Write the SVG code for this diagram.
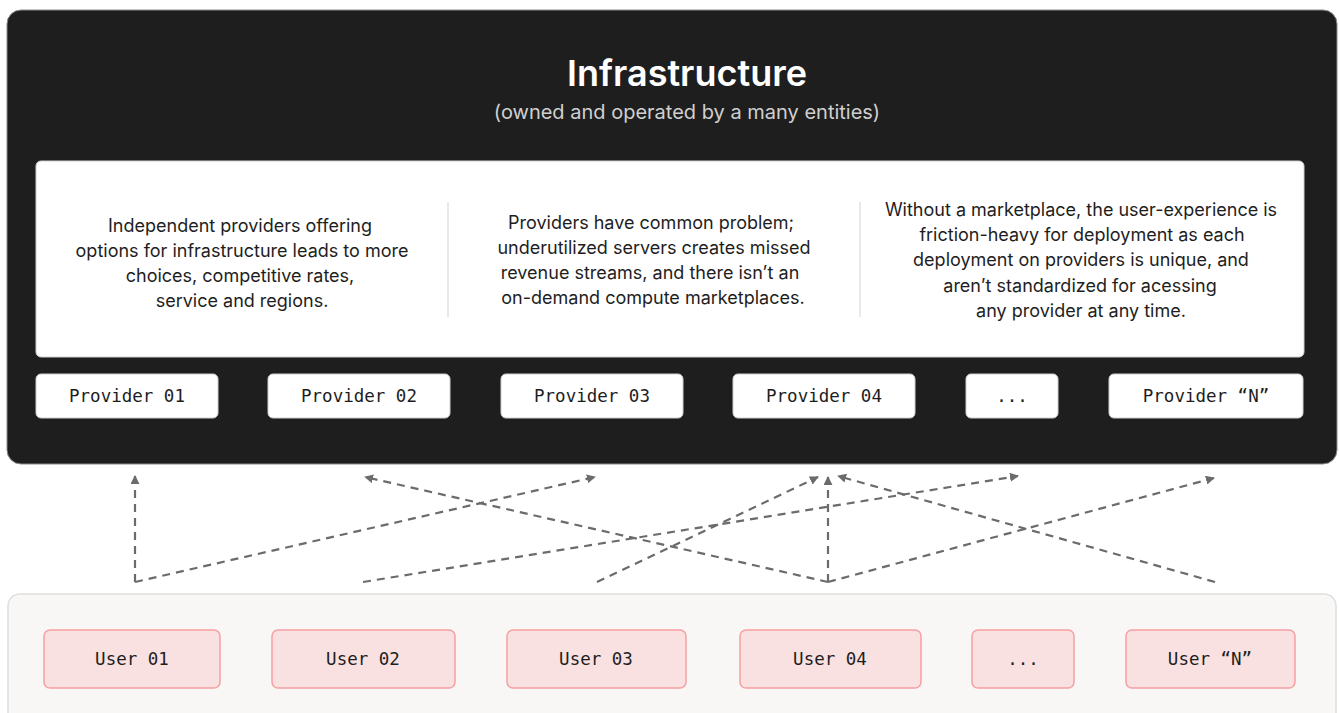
<svg xmlns="http://www.w3.org/2000/svg" width="1339" height="713" viewBox="0 0 1339 713">
<style>
.sans{font-family:Inter,"Noto Sans","Liberation Sans",sans-serif;}
.title{font-size:36px;font-weight:600;fill:#ffffff;text-anchor:middle;}
.sub{font-size:20px;fill:#d0d0d0;text-anchor:middle;}
.body{font-size:18px;fill:#1e1e1e;text-anchor:middle;}
.mono{font-family:"DejaVu Sans Mono","Liberation Mono",monospace;font-size:17.5px;font-weight:500;fill:#1e1e1e;text-anchor:middle;}
.prov{fill:#ffffff;stroke:#cfcfcf;stroke-width:1;}
.user{fill:#fae1e1;stroke:#f5a0a3;stroke-width:1.5;}
.conn{fill:none;stroke:#6b6b6b;stroke-width:2.2;stroke-dasharray:8 6;}
</style>
<defs>
<marker id="ah" viewBox="0 0 10 10" refX="9" refY="5" markerWidth="9" markerHeight="9" markerUnits="userSpaceOnUse" orient="auto">
<path d="M0,0 L10,5 L0,10 z" fill="#6b6b6b"/>
</marker>
</defs>
<rect width="1339" height="713" fill="#ffffff"/>
<g id="infrastructure">
<rect x="7" y="10" width="1330" height="454" rx="14" fill="#1e1e1e" stroke="#8a8a8a" stroke-width="1"/>
<text class="sans title" x="687" y="86">Infrastructure</text>
<text class="sans sub" x="687" y="119">(owned and operated by a many entities)</text>
</g>
<g id="info-panel">
<rect x="36" y="161" width="1268" height="196" rx="5" fill="#ffffff" stroke="#d0d0d0"/>
<line x1="448" y1="202" x2="448" y2="317" stroke="#e2e2e2" stroke-width="1.5"/>
<line x1="860" y1="202" x2="860" y2="317" stroke="#e2e2e2" stroke-width="1.5"/>
<text class="sans body" x="240" y="232">Independent providers offering</text>
<text class="sans body" x="242" y="257">options for infrastructure leads to more</text>
<text class="sans body" x="240" y="282">choices, competitive rates,</text>
<text class="sans body" x="242" y="307">service and regions.</text>
<text class="sans body" x="651" y="229">Providers have common problem;</text>
<text class="sans body" x="654" y="254">underutilized servers creates missed</text>
<text class="sans body" x="650" y="279">revenue streams, and there isn’t an</text>
<text class="sans body" x="653" y="304">on-demand compute marketplaces.</text>
<text class="sans body" x="1081" y="216">Without a marketplace, the user-experience is</text>
<text class="sans body" x="1082" y="241">friction-heavy for deployment as each</text>
<text class="sans body" x="1081" y="266">deployment on providers is unique, and</text>
<text class="sans body" x="1080" y="292">aren’t standardized for acessing</text>
<text class="sans body" x="1081" y="317">any provider at any time.</text>
</g>
<g id="provider-01"><rect class="prov" x="36" y="374" width="182" height="44" rx="5"/><text class="mono" x="127" y="402">Provider 01</text></g>
<g id="provider-02"><rect class="prov" x="268" y="374" width="182" height="44" rx="5"/><text class="mono" x="359" y="402">Provider 02</text></g>
<g id="provider-03"><rect class="prov" x="501" y="374" width="182" height="44" rx="5"/><text class="mono" x="592" y="402">Provider 03</text></g>
<g id="provider-04"><rect class="prov" x="733" y="374" width="182" height="44" rx="5"/><text class="mono" x="824" y="402">Provider 04</text></g>
<g id="provider-more"><rect class="prov" x="966" y="374" width="92" height="44" rx="5"/><text class="mono" x="1012" y="402">...</text></g>
<g id="provider-n"><rect class="prov" x="1109" y="374" width="194" height="44" rx="5"/><text class="mono" x="1206" y="402">Provider “N”</text></g>
<g id="users-panel">
<rect x="8" y="594" width="1328" height="150" rx="12" fill="#f9f7f5" stroke="#dedede" stroke-width="1.5"/>
</g>
<g id="user-01"><rect class="user" x="44" y="630" width="176" height="58" rx="6"/><text class="mono" x="132" y="665">User 01</text></g>
<g id="user-02"><rect class="user" x="272" y="630" width="183" height="58" rx="6"/><text class="mono" x="363" y="665">User 02</text></g>
<g id="user-03"><rect class="user" x="507" y="630" width="179" height="58" rx="6"/><text class="mono" x="596" y="665">User 03</text></g>
<g id="user-04"><rect class="user" x="740" y="630" width="181" height="58" rx="6"/><text class="mono" x="830" y="665">User 04</text></g>
<g id="user-more"><rect class="user" x="972" y="630" width="102" height="58" rx="6"/><text class="mono" x="1023" y="665">...</text></g>
<g id="user-n"><rect class="user" x="1126" y="630" width="169" height="58" rx="6"/><text class="mono" x="1210" y="665">User “N”</text></g>
<g id="connectors">
<path class="conn" d="M135,582 L135,476" marker-end="url(#ah)"/>
<path class="conn" d="M135,582 L595,477" marker-end="url(#ah)"/>
<path class="conn" d="M363,582 L1018,476" marker-end="url(#ah)"/>
<path class="conn" d="M597,582 L818,477" marker-end="url(#ah)"/>
<path class="conn" d="M828,582 L365,477" marker-end="url(#ah)"/>
<path class="conn" d="M828,582 L828,477" marker-end="url(#ah)"/>
<path class="conn" d="M828,582 L1214,478" marker-end="url(#ah)"/>
<path class="conn" d="M1215,582 L838,476" marker-end="url(#ah)"/>
</g>
</svg>
